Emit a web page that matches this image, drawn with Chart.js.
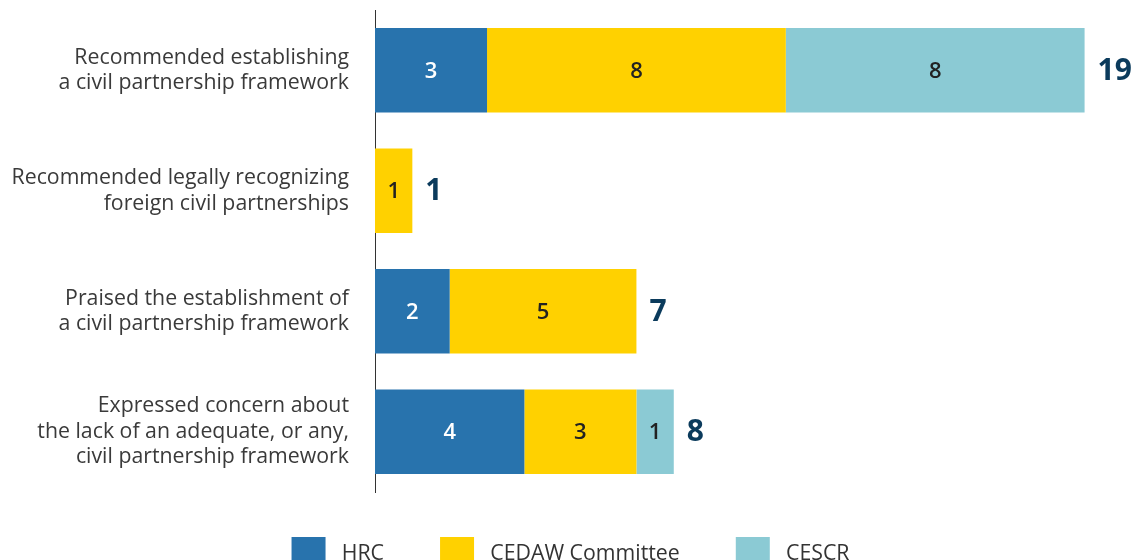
<!DOCTYPE html>
<html>
<head>
<meta charset="utf-8">
<script src="https://cdn.jsdelivr.net/npm/chart.js@4"></script>
<style>
  html, body { margin: 0; padding: 0; background: #fff; overflow: hidden; }
  #wrap { width: 1135px; height: 581px; }
</style>
</head>
<body>
<div id="wrap"><canvas id="myChart" width="1135" height="581"></canvas></div>
<script>
/* Data */
const categories = [
    ['Recommended establishing', 'a civil partnership framework'],
    ['Recommended legally recognizing', 'foreign civil partnerships'],
    ['Praised the establishment of', 'a civil partnership framework'],
    ['Expressed concern about', 'the lack of an adequate, or any,', 'civil partnership framework']
];
const hrc = [3, null, 2, 4];
const cedaw = [8, 1, 5, 3];
const cescr = [8, null, null, 1];
const xMax = 20.35; // axis range, leaves room for the totals

const FONT = "'Open Sans', sans-serif";

/* Value labels inside bars + totals at end */
const barLabels = {
    id: 'barLabels',
    afterDatasetsDraw(chart) {
        const ctx = chart.ctx;
        ctx.save();
        ctx.textAlign = 'center';
        ctx.textBaseline = 'middle';
        ctx.font = '600 22px ' + FONT;
        chart.data.datasets.forEach((ds, i) => {
            const meta = chart.getDatasetMeta(i);
            meta.data.forEach((bar, j) => {
                const v = ds.data[j];
                if (!v) return;
                ctx.fillStyle = ds.labelColor;
                ctx.fillText(v, (bar.x + bar.base) / 2, bar.y + 1);
            });
        });

        // totals
        const xScale = chart.scales.x;
        const yScale = chart.scales.y;
        ctx.textAlign = 'left';
        ctx.font = 'bold 30px ' + FONT;
        ctx.fillStyle = '#0b3b5c';
        categories.forEach((c, j) => {
            const total = (hrc[j] || 0) + (cedaw[j] || 0) + (cescr[j] || 0);
            ctx.fillText(total, xScale.getPixelForValue(total) + 13, yScale.getPixelForValue(j) + 1);
        });
        ctx.restore();
    }
};

function initChart() {
    const ctx = document.getElementById('myChart').getContext('2d');

    const myChart = new Chart(ctx, {
        type: 'bar',
        data: {
            labels: categories,
            datasets: [{
                label: 'HRC',
                backgroundColor: '#2873ad',
                labelColor: '#ffffff',
                borderWidth: 0,
                data: hrc,
            },
            {
                label: 'CEDAW Committee',
                backgroundColor: '#ffd100',
                labelColor: '#222222',
                borderWidth: 0,
                data: cedaw,
            },
            {
                label: 'CESCR',
                backgroundColor: '#8bcad4',
                labelColor: '#222222',
                borderWidth: 0,
                data: cescr,
            }]
        },
        options: {
            indexAxis: 'y',
            responsive: false,
            devicePixelRatio: 1,
            animation: false,
            categoryPercentage: 0.7,
            barPercentage: 1,
            layout: { padding: { top: 10, right: 0, left: 6, bottom: 0 } },
            scales: {
                x: {
                    stacked: true,
                    display: false,
                    min: 0,
                    max: xMax,
                },
                y: {
                    stacked: true,
                    grid: { display: false, drawTicks: false },
                    border: { display: true, color: '#333333', width: 1 },
                    ticks: {
                        padding: 26,
                        color: '#3a3a3a',
                        font: { family: FONT, size: 21.3, lineHeight: 1.2 },
                    },
                    afterFit(scale) {
                        scale.width = 369;
                        scale.paddingTop = 0;
                        scale.paddingBottom = 0;
                    }
                }
            },
            plugins: {
                tooltip: { enabled: false },
                legend: {
                    position: 'bottom',
                    labels: {
                        boxWidth: 34,
                        boxHeight: 34,
                        padding: 45,
                        color: '#333333',
                        font: { family: FONT, size: 21.3 },
                        generateLabels(chart) {
                            const items = Chart.defaults.plugins.legend.labels.generateLabels(chart);
                            items.forEach((it, i) => {
                                it.text = ' ' + it.text + (i < items.length - 1 ? '  ' : '');
                                it.lineWidth = 0;
                            });
                            return items;
                        }
                    }
                }
            }
        },
        plugins: [barLabels]
    });
}

initChart();
</script>
</body>
</html>
